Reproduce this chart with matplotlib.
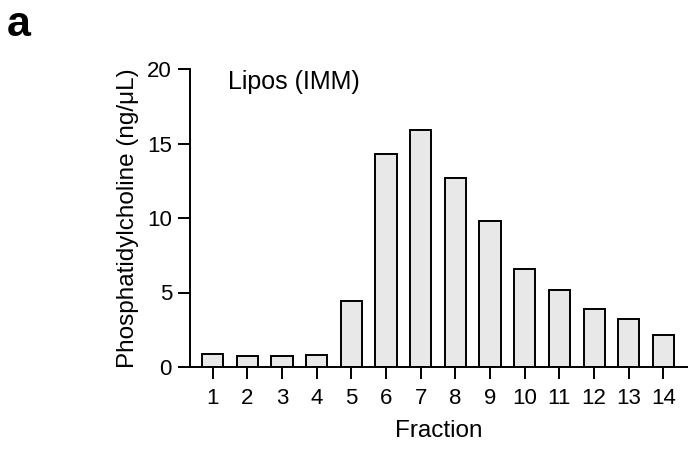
import matplotlib
matplotlib.use("Agg")
import matplotlib.pyplot as plt

plt.rcParams["font.family"] = ["Liberation Sans", "DejaVu Sans"]

# phosphatidylcholine per fraction
fractions = [1, 2, 3, 4, 5, 6, 7, 8, 9, 10, 11, 12, 13, 14]
pc_conc = [0.85, 0.76, 0.76, 0.83, 4.40, 14.30, 15.91, 12.71, 9.81,
           6.58, 5.18, 3.86, 3.21, 2.14]
yticks = [0, 5, 10, 15, 20]

fig = plt.figure(figsize=(6.88, 4.5), dpi=100)
ax = fig.add_axes([190 / 688, 1 - 367 / 450, 497 / 688, 298 / 450])

ax.bar(fractions, pc_conc, width=0.61, color="#e8e8e8",
       edgecolor="black", linewidth=1.4)
ax.set_xlim(0.345, 14.68)
ax.set_ylim(0, 20)
ax.set_xticks(fractions)
ax.set_yticks(yticks)

for s in ["top", "right"]:
    ax.spines[s].set_visible(False)
for s in ["left", "bottom"]:
    ax.spines[s].set_linewidth(1.4)
ax.tick_params(axis="both", length=8.5, width=1.4, labelsize=16,
               colors="black")
ax.tick_params(axis="x", pad=6.5)
ax.tick_params(axis="y", pad=4.5)

ax.set_xlabel("Fraction", fontsize=17.5, labelpad=8)
ax.set_ylabel("Phosphatidylcholine (ng/\u03bcL)", fontsize=17.5, labelpad=6)

fig.text(228 / 688, 1 - 70 / 450, "Lipos (IMM)", fontsize=18,
         ha="left", va="top")
fig.text(7 / 688, 1 - 5 / 450, "a", fontsize=31, fontweight="bold",
         ha="left", va="top")

fig.savefig("out.png", dpi=100, facecolor="white")
